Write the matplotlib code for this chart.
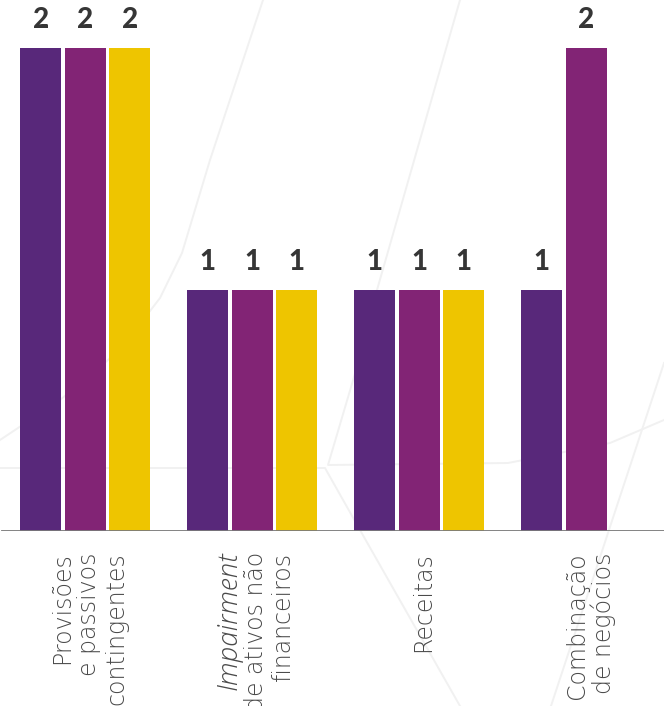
import numpy as np
import matplotlib.pyplot as plt
from matplotlib.lines import Line2D
from matplotlib.transforms import blended_transform_factory

# category labels, one entry per line (drawn rotated)
labels = [
    ["Provisões", "e passivos", "contingentes"],
    ["Impairment", "de ativos não", "financeiros"],
    ["Receitas"],
    ["Combinação", "de negócios"],
]
italic_lines = [[], ["Impairment"], [], []]

serie_roxo = [2, 1, 1, 1]
serie_magenta = [2, 1, 1, 2]
serie_amarelo = [2, 1, 1, np.nan]

COLORS = ["#58287a", "#822475", "#eec500"]
W, H = 664, 706

fig = plt.figure(figsize=(W / 100, H / 100), dpi=100)
fig.patch.set_facecolor("white")

# faint decorative strokes behind the chart (pixel coords, y from top)
deco = [
    [(263, 0), (210, 160), (182, 253), (160, 298), (120, 350), (60, 400), (0, 440)],
    [(460, 0), (377, 290), (354, 377), (328, 465), (508, 463), (610, 443), (664, 420)],
    [(0, 468), (325, 468), (360, 530), (460, 706)],
    [(664, 363), (551, 706)],
]
for path in deco:
    xs = [p[0] / W for p in path]
    ys = [1 - p[1] / H for p in path]
    fig.add_artist(Line2D(xs, ys, transform=fig.transFigure, color="#f1f1f1",
                          lw=1.4, zorder=0))

base_px = 531
ax = fig.add_axes([0, (H - base_px) / H, 1, base_px / H])
ax.set_facecolor("none")
for s in ax.spines.values():
    s.set_visible(False)
ax.set_xticks([])
ax.set_yticks([])

pitch = 167.0
x0_px = 85.2
unit_px = 241.5
ax.set_xlim(-x0_px / pitch, (W - x0_px) / pitch)
ax.set_ylim(0, base_px / unit_px)

x = np.arange(len(labels))
off = 44.5 / pitch
bw = 41 / pitch
for i, vals in enumerate([serie_roxo, serie_magenta, serie_amarelo]):
    v = np.array(vals, dtype=float)
    ok = ~np.isnan(v)
    xs = x[ok] + (i - 1) * off
    ax.bar(xs, v[ok], width=bw, color=COLORS[i], zorder=2)
    for xi, vi in zip(xs, v[ok]):
        ax.annotate(f"{vi:.0f}", (xi, vi), xytext=(0, 15), textcoords="offset pixels",
                    ha="center", va="bottom", fontsize=20, fontweight="black",
                    color="#363636", family="Lato")

ax.axhline(0, xmin=0.003, xmax=1, color="#7a7a7a", lw=1.3, zorder=3)

# rotated category labels below the baseline
trans = blended_transform_factory(ax.transData, fig.transFigure)
line_gap = 27 / pitch
label_top = 1 - 552 / H
for gi, lines in enumerate(labels):
    n = len(lines)
    for li, txt in enumerate(lines):
        xc = gi + 4 / pitch + (li - (n - 1) / 2) * line_gap
        if txt in italic_lines[gi]:
            font = dict(family="Open Sans", fontweight="light", style="italic",
                        fontsize=20, color="#4a4a4a")
        else:
            font = dict(family="DejaVu Sans", fontweight="light", fontsize=17,
                        color="#4a4a4a")
        ax.text(xc, label_top, txt, transform=trans, rotation=90,
                ha="center", va="top", clip_on=False, **font)

fig.savefig("out.png", dpi=100)
